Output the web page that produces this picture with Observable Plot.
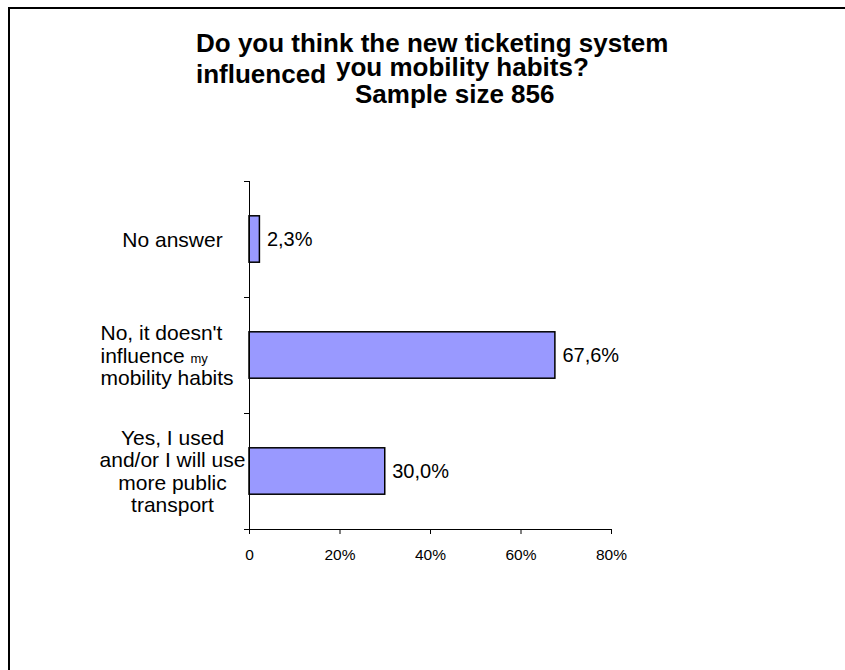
<!DOCTYPE html>
<html>
<head>
<meta charset="utf-8">
<script src="https://cdn.jsdelivr.net/npm/d3@7"></script>
<script src="https://cdn.jsdelivr.net/npm/@observablehq/plot@0.6"></script>
<style>
  html, body { margin: 0; padding: 0; background: #fff; }
  body { width: 845px; height: 670px; position: relative; overflow: hidden; font-family: "Liberation Sans", Arial, sans-serif; }
  #frame { position: absolute; left: 8px; top: 7px; width: 900px; height: 700px; border-left: 2px solid #000; border-top: 2px solid #000; z-index: 3; pointer-events: none; }
  .t { position: absolute; font-weight: bold; font-size: 26px; line-height: 26px; white-space: nowrap; color: #000; z-index: 2; }
  #chart { position: absolute; left: 0; top: 0; z-index: 1; }
</style>
</head>
<body>
<div id="frame"></div>
<div class="t" id="t1"></div>
<div class="t" id="t2a"></div>
<div class="t" id="t2b"></div>
<div class="t" id="t3"></div>
<div id="chart"></div>
<script>
// ---- data ----
const titleLine1 = "Do you think the new ticketing system";
const titleLine2a = "influenced";
const titleLine2b = "you mobility habits?";
const titleLine3 = "Sample size 856";

// bottom to top, as in the chart
const categories = [
  "Yes, I used\nand/or I will use\nmore public\ntransport",
  "No, it doesn't\ninfluence my\nmobility habits",
  "No answer"
];
const values = [30.0, 67.6, 2.3];
const xTicks = [0, 20, 40, 60, 80];
const xTickLabels = ["0", "20%", "40%", "60%", "80%"];

// ---- title ----
const ts = [["t1", titleLine1, 196, 52], ["t2a", titleLine2a, 196, 83], ["t2b", titleLine2b, 336, 76], ["t3", titleLine3, 355, 103]];
for (const [id, txt, left, base] of ts) {
  const el = document.getElementById(id);
  el.textContent = txt;
  el.style.left = left + "px";
  el.style.top = (base - 22) + "px";
}

// ---- chart ----
const BAR_PAD = 0.3; // fraction of each category slot left empty above/below bar
const data = categories.map((c, i) => ({label: c, value: values[i], pos: i}));
const fmt = v => d3.format(".1f")(v).replace(".", ",") + "%";
const isLeftAligned = d => d.label.startsWith("No, it");

const chart = Plot.plot({
  width: 845,
  height: 670,
  marginLeft: 249,
  marginRight: 234,
  marginTop: 181,
  marginBottom: 141,
  style: {background: "transparent", fontFamily: "Liberation Sans, Arial, sans-serif", overflow: "visible"},
  x: {domain: [0, 80]},
  y: {domain: [0, categories.length]},
  marks: [
    Plot.rectX(data, {
      x1: 0, x2: "value",
      y1: d => d.pos + BAR_PAD, y2: d => d.pos + 1 - BAR_PAD,
      fill: "#9999FF", stroke: "#000", strokeWidth: 1.5
    }),
    Plot.ruleX([0], {y1: 0, y2: categories.length, stroke: "#000", strokeWidth: 1}),
    Plot.ruleY([0], {x1: 0, x2: 80, stroke: "#000", strokeWidth: 1}),
    Plot.axisX({
      ticks: xTicks, tickSize: 5, tickPadding: 14, fontSize: 15.5,
      tickFormat: d => xTickLabels[xTicks.indexOf(d)], label: null, stroke: "#000", strokeOpacity: 1
    }),
    Plot.axisY({
      ticks: d3.range(categories.length + 1), tickSize: 5, tickFormat: () => "", label: null, stroke: "#000", strokeOpacity: 1
    }),
    Plot.text(data, {
      filter: d => !isLeftAligned(d),
      x: 0, y: d => d.pos + 0.5, text: "label",
      textAnchor: "middle", dx: -77, fontSize: 21, lineHeight: 1.07, fill: "#000"
    }),
    Plot.text(data, {
      filter: isLeftAligned,
      x: 0, y: d => d.pos + 0.5, text: "label",
      textAnchor: "start", dx: -149, fontSize: 21, lineHeight: 1.07, fill: "#000"
    }),
    Plot.text(data, {
      x: "value", y: d => d.pos + 0.5, text: d => fmt(d.value),
      textAnchor: "start", dx: 7, fontSize: 20, fill: "#000"
    })
  ]
});
document.getElementById("chart").appendChild(chart);

// smaller "my" in "influence my", as in the original
chart.querySelectorAll("tspan").forEach(ts => {
  if (ts.textContent === "influence my") {
    ts.textContent = "influence ";
    const s = document.createElementNS("http://www.w3.org/2000/svg", "tspan");
    s.setAttribute("font-size", "13");
    s.textContent = "my";
    ts.appendChild(s);
  }
});
</script>
</body>
</html>
